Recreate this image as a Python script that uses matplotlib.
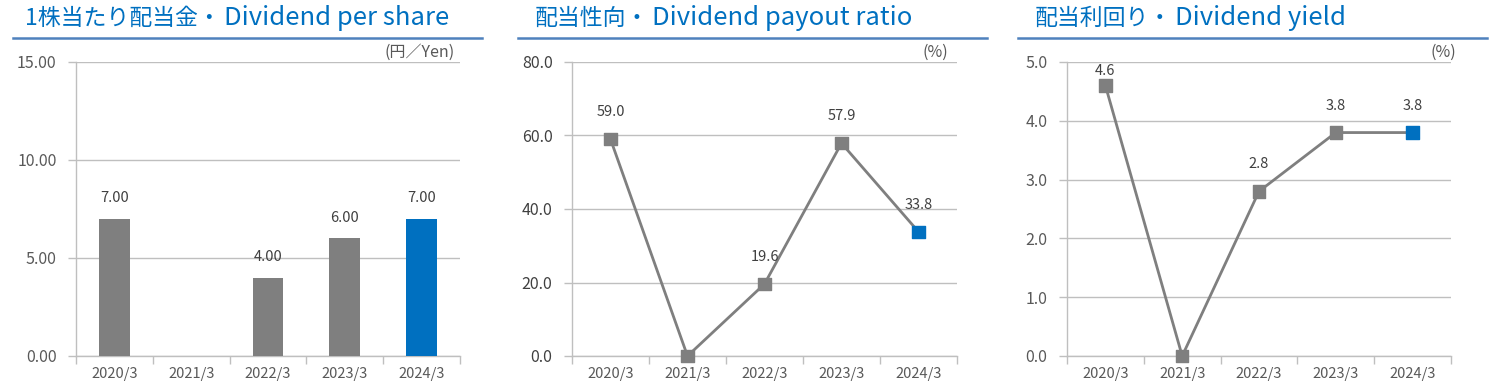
import numpy as np
import matplotlib
matplotlib.use("Agg")
import matplotlib.pyplot as plt
from matplotlib.lines import Line2D

plt.rcParams['font.family'] = ['Noto Sans CJK JP', 'DejaVu Sans']

# データ
years = ["2020/3", "2021/3", "2022/3", "2023/3", "2024/3"]
dps = [7.00, np.nan, 4.00, 6.00, 7.00]
payout = [59.0, 0.0, 19.6, 57.9, 33.8]
yield_ = [4.6, 0.0, 2.8, 3.8, 3.8]

titles_jp = ["1株当たり配当金・", "配当性向・", "配当利回り・"]
titles_en = ["Dividend per share", "Dividend payout ratio", "Dividend yield"]
units = ["(円／Yen)", "(%)", "(%)"]

GRAY = "#7f7f7f"
BLUE = "#0070c0"
GRID = "#bfbfbf"
TITLE_C = "#0070c0"

W, H = 1490, 386
fig = plt.figure(figsize=(W / 100, H / 100), dpi=100)

# 軸の位置 (ピクセル)
axes_px = [(76, 460), (572, 957), (1067, 1451)]
top_px, bot_px = 62, 356
title_x = [25, 535, 1035]
rule_x = [(13, 482), (518, 987), (1018, 1487)]
unit_x = [455, 948, 1456]

ylims = [(0, 15), (0, 80), (0, 5)]
yticks = [np.arange(0, 15.1, 5), np.arange(0, 80.1, 20), np.arange(0, 5.01, 1)]
yfmt = ["{:.2f}", "{:.1f}", "{:.1f}"]
ylab_c = ["#595959", "#404040", "#595959"]

x = np.arange(len(years))

for i in range(3):
    l, r = axes_px[i]
    ax = fig.add_axes([l / W, (H - bot_px) / H, (r - l) / W, (bot_px - top_px) / H])
    ax.set_xlim(-0.5, len(years) - 0.5)
    ax.set_ylim(*ylims[i])
    ax.set_yticks(yticks[i])
    ax.set_yticklabels([yfmt[i].format(v) for v in yticks[i]], color=ylab_c[i], fontsize=11.5)
    ax.set_xticks(x)
    ax.set_xticklabels(years, color="#595959", fontsize=10.5)
    ax.set_xticks(np.arange(-0.5, len(years), 1), minor=True)
    ax.tick_params(axis='x', which='major', length=0, pad=8)
    ax.tick_params(axis='x', which='minor', length=6, color=GRID, width=1)
    ax.tick_params(axis='y', length=6, color=GRID, width=1, pad=8)
    for s in ['top', 'right']:
        ax.spines[s].set_visible(False)
    for s in ['left', 'bottom']:
        ax.spines[s].set_color(GRID)
        ax.spines[s].set_linewidth(1)
    ax.yaxis.grid(True, color=GRID, linewidth=1)
    ax.set_axisbelow(True)
    ax.patch.set_alpha(0)

    colors = [GRAY] * (len(years) - 1) + [BLUE]
    if i == 0:
        vals = dps
        ax.bar(x, vals, width=0.4, color=colors, zorder=3)
        for xi, v in zip(x, vals):
            if not np.isnan(v):
                ax.annotate(f"{v:.2f}", (xi, v), xytext=(0, 15), textcoords='offset points',
                            ha='center', va='center', fontsize=10.5, color="#404040")
    else:
        vals = payout if i == 1 else yield_
        ax.plot(x, vals, color=GRAY, linewidth=2, zorder=3)
        ax.scatter(x, vals, marker='s', s=80, c=colors, zorder=4, clip_on=False)
        ymax = ylims[i][1]
        for xi, v in zip(x, vals):
            if v == 0:
                continue
            # 上端に近いラベルは下げる
            dist = (ymax - v) / ymax * (bot_px - top_px)
            off = min(27, dist - 9)
            ax.annotate(f"{v:.1f}", (xi, v), xytext=(0, off * 0.72), textcoords='offset points',
                        ha='center', va='center', fontsize=10.5, color="#404040")

    # タイトルと下線
    t_jp = fig.text(title_x[i] / W, (H - 18) / H, titles_jp[i], fontsize=16.5, color=TITLE_C,
                    ha='left', va='center')
    fig.text(0, 0, "")
    ax.annotate(titles_en[i], xy=(1, 0.5), xycoords=t_jp, xytext=(2, 0),
                textcoords='offset points', ha='left', va='center',
                fontsize=18.5, color=TITLE_C, annotation_clip=False)
    x0, x1 = rule_x[i]
    fig.add_artist(Line2D([x0 / W, x1 / W], [(H - 38) / H] * 2, color="#4f81bd",
                          linewidth=1.8, transform=fig.transFigure))
    fig.text(unit_x[i] / W, (H - 52) / H, units[i], fontsize=11.5, color="#595959",
             ha='right', va='center')

fig.savefig("out.png", dpi=100)
